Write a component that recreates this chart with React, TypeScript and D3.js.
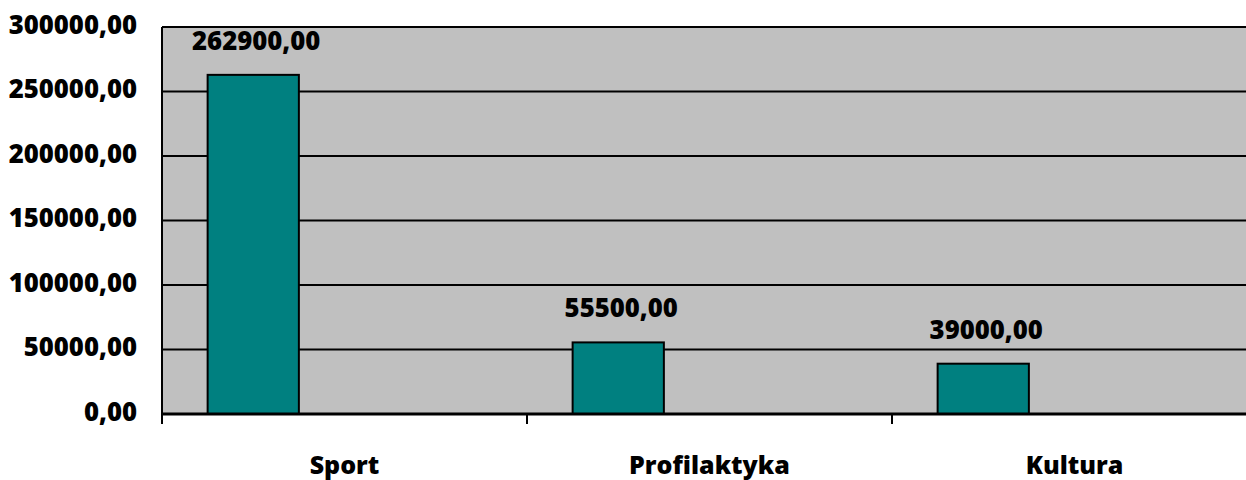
import React from "react";
import * as d3 from "d3";

const categories = ["Sport", "Profilaktyka", "Kultura"];
const values = [262900, 55500, 39000];
const seriesSlots = ["s1", "s2", "s3"];
const yTicks = [0, 50000, 100000, 150000, 200000, 250000, 300000];

const W = 1246;
const H = 480;
const M = { left: 162, top: 27, right: 1257, bottom: 414 };

const fmt = (v: number) => v.toFixed(2).replace(".", ",");

export default function App() {
  const x = d3.scaleBand<string>().domain(categories).range([M.left, M.right]).padding(0);
  const inner = d3
    .scaleBand<string>()
    .domain(seriesSlots)
    .range([0, x.bandwidth()])
    .paddingInner(0)
    .paddingOuter(0.5);
  const y = d3.scaleLinear().domain([0, 300000]).range([M.bottom, M.top]);
  const font = "'Open Sans', sans-serif";
  const fs = 25.7;

  return (
    <svg
      width={W}
      height={H}
      style={{ position: "absolute", left: 0, top: 0, background: "#fff" }}
      fontFamily={font}
      fontWeight={800}
    >
      <rect x={M.left} y={M.top} width={M.right - M.left} height={M.bottom - M.top} fill="#C0C0C0" />
      {yTicks.slice(1).map((t) => (
        <line key={t} x1={M.left} x2={M.right} y1={y(t)} y2={y(t)} stroke="#000" strokeWidth={2} />
      ))}
      {categories.map((c, i) => {
        const bx = (x(c) as number) + (inner("s1") as number);
        const bw = inner.bandwidth();
        return (
          <g key={c}>
            <rect
              x={bx}
              y={y(values[i])}
              width={bw}
              height={y(0) - y(values[i])}
              fill="#008080"
              stroke="#000"
              strokeWidth={2}
            />
            <text
              x={bx + bw / 2 + 3}
              y={y(values[i]) - 32}
              textAnchor="middle"
              dominantBaseline="middle"
              fontSize={fs}
              fill="#000"
            >
              {fmt(values[i])}
            </text>
            <text
              x={(x(c) as number) + x.bandwidth() / 2}
              y={474}
              textAnchor="middle"
              fontSize={25}
              fill="#000"
            >
              {c}
            </text>
          </g>
        );
      })}
      <line x1={M.left} x2={M.left} y1={M.top} y2={M.bottom + 10} stroke="#000" strokeWidth={2} />
      <line x1={M.left} x2={M.right} y1={M.bottom} y2={M.bottom} stroke="#000" strokeWidth={3} />
      {categories.map((c) => (
        <line
          key={c}
          x1={(x(c) as number) + x.bandwidth()}
          x2={(x(c) as number) + x.bandwidth()}
          y1={M.bottom}
          y2={M.bottom + 10}
          stroke="#000"
          strokeWidth={2}
        />
      ))}
      {yTicks.map((t) => (
        <text
          key={t}
          x={137}
          y={y(t)}
          textAnchor="end"
          dominantBaseline="middle"
          fontSize={fs}
          fill="#000"
        >
          {fmt(t)}
        </text>
      ))}
    </svg>
  );
}
